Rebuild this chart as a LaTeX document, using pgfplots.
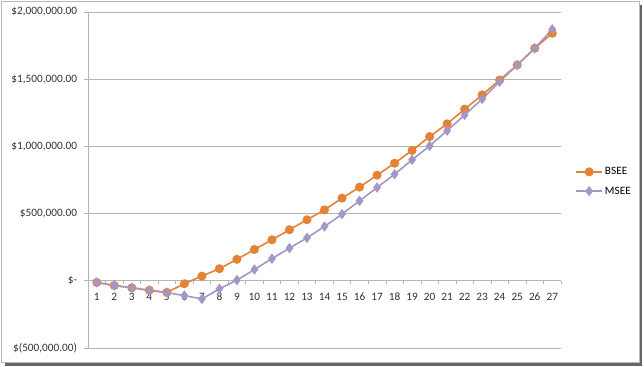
\documentclass[border=0pt]{standalone}
\usepackage{pgfplots}
\pgfplotsset{compat=1.18}
\usepackage{fontspec}
\setmainfont{Carlito}
\definecolor{bsee}{RGB}{226,131,56}
\definecolor{msee}{RGB}{165,150,198}
\definecolor{gridc}{RGB}{180,180,180}
\begin{document}
\begin{tikzpicture}[x=1bp,y=1bp]
\path[use as bounding box] (0,0) rectangle (644,366);
\draw[line width=2.2bp, black!60] (5,1.6) -- (640.6,1.6) -- (640.6,361);
\draw[gray!55, line width=0.8bp, fill=white] (1.5,3.5) rectangle (639,364.5);
\begin{axis}[
  at={(88bp,18bp)}, anchor=south west,
  scale only axis, width=473bp, height=336bp,
  xmin=0.5, xmax=27.5, ymin=-500000, ymax=2000000,
  axis x line=middle, axis y line=left,
  x axis line style={-, draw=gridc, line width=0.8pt},
  y axis line style={-, draw=gridc, line width=0.8pt},
  xtick={1,...,27},
  xticklabels={1,2,3,4,5,6,7,8,9,10,11,12,13,14,15,16,17,18,19,20,21,22,23,24,25,26,27},
  minor xtick={0.5,1.5,...,27.5},
  major x tick style={draw=none},
  minor x tick style={draw=gridc, line width=0.6pt},
  minor tick length=3.5bp,
  tick align=outside,
  major tick length=4bp,
  ytick={-500000,0,500000,1000000,1500000,2000000},
  yticklabels={{\$(500,000.00)}, {\$-\hspace{2.5bp}}, {\$500,000.00}, {\$1,000,000.00}, {\$1,500,000.00}, {\$2,000,000.00}},
  y tick style={draw=gridc, line width=0.8pt},
  ymajorgrids, grid style={draw=gridc, line width=0.8pt},
  ticklabel style={font=\fontsize{11.3}{13}\selectfont, text=black!80},
  xticklabel style={yshift=-4bp, text height=8bp, text depth=0bp, anchor=north},
  yticklabel style={xshift=-3.5bp},
  /pgf/number format/assume math mode=true,
  scaled y ticks=false,
  legend style={at={(1.03,0.4955)}, anchor=west, draw=none, fill=none,
    font=\fontsize{11.3}{13}\selectfont, row sep=6.5bp, inner sep=0pt},
  legend cell align=left,
  legend image code/.code={\draw[mark repeat=2,mark phase=2] plot coordinates {(0bp,0bp)(13bp,0bp)(26bp,0bp)};},
  clip=false,
]
\addplot[bsee, line width=1.6pt, mark=*, mark size=3.7bp, mark options={fill=bsee, draw=bsee}] coordinates {
(1,-12000) (2,-35000) (3,-52000) (4,-70000) (5,-86000) (6,-22000) (7,35000) (8,90000) (9,160000) (10,233000) (11,305000) (12,380000) (13,454000) (14,528000) (15,615000) (16,697000) (17,786000) (18,875000) (19,970000) (20,1073000) (21,1168000) (22,1277000) (23,1383000) (24,1494000) (25,1606000) (26,1730000) (27,1842000)};
\addlegendentry{BSEE}
\addplot[msee, line width=1.6pt, mark=diamond*, mark size=3.9bp, mark options={fill=msee, draw=msee}] coordinates {
(1,-12000) (2,-35000) (3,-52000) (4,-72000) (5,-88000) (6,-110000) (7,-135000) (8,-60000) (9,5000) (10,84000) (11,165000) (12,243000) (13,320000) (14,404000) (15,496000) (16,595000) (17,694000) (18,793000) (19,900000) (20,1004000) (21,1117000) (22,1234000) (23,1353000) (24,1482000) (25,1606000) (26,1730000) (27,1871000)};
\addlegendentry{MSEE}
\end{axis}
\end{tikzpicture}
\end{document}
